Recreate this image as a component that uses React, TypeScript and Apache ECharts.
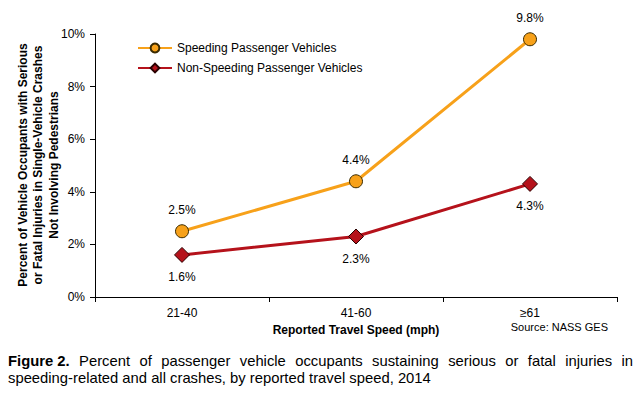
import React, { useEffect, useRef } from "react";
import * as echarts from "echarts";

const categories = ["21-40", "41-60", "≥61"];
const speeding = [2.5, 4.4, 9.8];
const nonSpeeding = [1.6, 2.3, 4.3];
const yTicks = { min: 0, max: 10, interval: 2 };
const seriesNames = ["Speeding Passenger Vehicles", "Non-Speeding Passenger Vehicles"];
const yTitle = "Percent of Vehicle Occupants with Serious\nor Fatal Injuries in Single-Vehicle Crashes\nNot Involving Pedestrians";
const xTitle = "Reported Travel Speed (mph)";
const source = "Source: NASS GES";
const captionBold = "Figure 2.";
const captionLine1 = "Percent of passenger vehicle occupants sustaining serious or fatal injuries in";
const captionLine2 = "speeding-related and all crashes, by reported travel speed, 2014";

const FONT = "'Liberation Sans', Arial, sans-serif";
const CAP_FONT = "'Liberation Sans Narrow', 'Arial Narrow', 'Liberation Sans', sans-serif";

function measure(text: string, font: string): number {
  const c = document.createElement("canvas");
  const ctx = c.getContext("2d")!;
  ctx.font = font;
  return ctx.measureText(text).width;
}

export default function App() {
  const ref = useRef<HTMLDivElement>(null);
  useEffect(() => {
    if (!ref.current) return;
    const chart = echarts.init(ref.current, undefined, { renderer: "svg" });

    // justified first caption line
    const capSize = 14.8;
    const words = [captionBold, ...captionLine1.split(" ")];
    const fonts = words.map((w, i) => (i === 0 ? `bold ${capSize}px ${CAP_FONT}` : `${capSize}px ${CAP_FONT}`));
    const widths = words.map((w, i) => measure(w, fonts[i]));
    const left = 8, right = 633;
    const total = widths.reduce((a, b) => a + b, 0);
    const gap = (right - left - total) / (words.length - 1);
    let cx = left;
    const capElems: any[] = words.map((w, i) => {
      const el = {
        type: "text",
        x: cx,
        y: 361,
        style: {
          text: w,
          font: fonts[i],
          fill: "#000",
          textAlign: "left",
          textVerticalAlign: "middle",
        },
      };
      cx += widths[i] + gap;
      return el;
    });
    capElems.push({
      type: "text",
      x: left,
      y: 378,
      style: {
        text: captionLine2,
        font: `${capSize}px ${CAP_FONT}`,
        fill: "#000",
        textAlign: "left",
        textVerticalAlign: "middle",
      },
    });

    chart.setOption({
      animation: false,
      backgroundColor: "#fff",
      textStyle: { fontFamily: FONT },
      grid: { left: 95, right: 26, top: 34, bottom: 102, containLabel: false },
      legend: {
        orient: "vertical",
        left: 132,
        top: 37,
        itemWidth: 34,
        itemHeight: 11,
        itemGap: 8,
        textStyle: { fontFamily: FONT, fontSize: 12, color: "#000" },
        data: seriesNames,
      },
      xAxis: {
        type: "category",
        data: categories,
        boundaryGap: true,
        axisLine: { lineStyle: { color: "#000", width: 1 } },
        axisTick: { show: true, inside: false, length: 5, lineStyle: { color: "#000" } },
        axisLabel: { color: "#000", fontSize: 12, fontFamily: FONT, margin: 10 },
        name: xTitle,
        nameLocation: "middle",
        nameGap: 27,
        nameTextStyle: { fontWeight: "bold", fontSize: 12, color: "#000", fontFamily: FONT },
      },
      yAxis: {
        type: "value",
        min: yTicks.min,
        max: yTicks.max,
        interval: yTicks.interval,
        axisLine: { show: true, lineStyle: { color: "#000", width: 1 } },
        axisTick: { show: true, inside: false, length: 5, lineStyle: { color: "#000" } },
        splitLine: { show: false },
        axisLabel: { color: "#000", fontSize: 12, fontFamily: FONT, margin: 10, formatter: "{value}%" },
      },
      series: [
        {
          name: seriesNames[0],
          type: "line",
          data: speeding,
          symbol: "circle",
          symbolSize: 13,
          lineStyle: { color: "#F7A11A", width: 3 },
          itemStyle: { color: "#F7A11A", borderColor: "#3a2a00", borderWidth: 1 },
          label: {
            show: true,
            position: "top",
            distance: 8,
            formatter: (p: any) => `${p.value.toFixed(1)}%`,
            color: "#000",
            fontSize: 12,
            fontFamily: FONT,
          },
          z: 3,
        },
        {
          name: seriesNames[1],
          type: "line",
          data: nonSpeeding,
          symbol: "diamond",
          symbolSize: 15,
          lineStyle: { color: "#B5121B", width: 3 },
          itemStyle: { color: "#B5121B", borderColor: "#2a0000", borderWidth: 1 },
          label: {
            show: true,
            position: "bottom",
            distance: 8,
            formatter: (p: any) => `${p.value.toFixed(1)}%`,
            color: "#000",
            fontSize: 12,
            fontFamily: FONT,
          },
          z: 2,
        },
      ],
      graphic: [
        {
          type: "text",
          x: 38,
          y: 165,
          rotation: Math.PI / 2,
          style: {
            text: yTitle,
            font: `bold 12px ${FONT}`,
            lineHeight: 15.5,
            fill: "#000",
            textAlign: "center",
            textVerticalAlign: "middle",
          },
        },
        {
          type: "text",
          x: 608,
          y: 327,
          style: {
            text: source,
            font: `11px ${FONT}`,
            fill: "#000",
            textAlign: "right",
            textVerticalAlign: "middle",
          },
        },
        ...capElems,
      ],
    });
    return () => chart.dispose();
  }, []);
  return <div ref={ref} style={{ width: 643, height: 399, position: "absolute", left: 0, top: 0 }} />;
}
